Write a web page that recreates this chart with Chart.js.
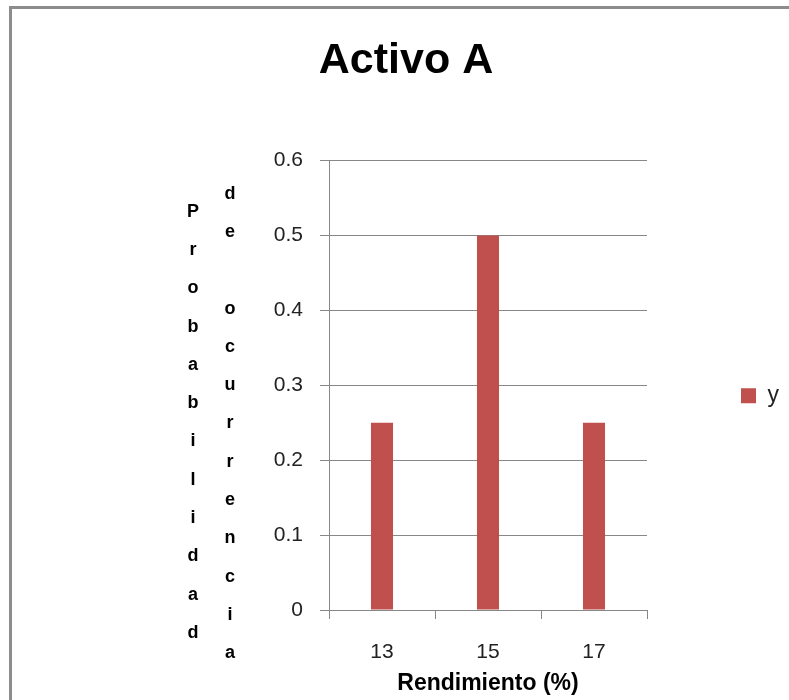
<!DOCTYPE html>
<html>
<head>
<meta charset="utf-8">
<script src="https://cdn.jsdelivr.net/npm/chart.js@4/dist/chart.umd.min.js"></script>
<style>
  html, body { margin: 0; padding: 0; background: #fff; overflow: hidden; width: 789px; height: 700px; }
  #frame { position: absolute; left: 9px; top: 6px; width: 820px; height: 720px;
           border-top: 3px solid #8c8c8c; border-left: 3px solid #8c8c8c; }
  #c { position: absolute; left: 12px; top: 9px; }
</style>
</head>
<body>
<div id="frame"></div>
<canvas id="c" width="788" height="700"></canvas>
<script>
// Rendimiento (%) categories and their probabilities
const categories = ['13', '15', '17'];
const probabilities = [0.25, 0.5, 0.25];
const seriesName = 'y';
const yMin = 0, yMax = 0.6, yStep = 0.1;

const chartTitle = 'Activo A';
const xTitle = 'Rendimiento (%)';
const yTitleLine1 = 'Probabilidad';
const yTitleLine2 = 'de ocurrencia';

const GRID = '#878787';
const BAR = '#C0504D';
const TEXT = '#222222';
const FONT = '"Liberation Sans", Arial, sans-serif';

// Y-axis title written as two stacked columns of upright letters
const stackedYTitle = {
  id: 'stackedYTitle',
  afterDraw(chart) {
    const { ctx, chartArea } = chart;
    ctx.save();
    ctx.font = 'bold 18px ' + FONT;
    ctx.fillStyle = '#000';
    ctx.textAlign = 'center';
    ctx.textBaseline = 'alphabetic';
    const step = 38.3;
    [...yTitleLine1].forEach((ch, i) => {
      ctx.fillText(ch, chartArea.left - 136, chartArea.top + 56 + i * step);
    });
    [...yTitleLine2].forEach((ch, i) => {
      ctx.fillText(ch, chartArea.left - 99, chartArea.top + 38 + i * step);
    });
    ctx.restore();
  }
};

new Chart(document.getElementById('c'), {
  type: 'bar',
  data: {
    labels: categories,
    datasets: [{
      label: seriesName,
      data: probabilities,
      backgroundColor: BAR,
      borderWidth: 0,
      categoryPercentage: 1,
      barPercentage: 0.208
    }]
  },
  options: {
    responsive: false,
    devicePixelRatio: 1,
    animation: false,
    layout: { padding: { left: 11, right: 11, top: 0, bottom: 12 } },
    plugins: {
      title: {
        display: true,
        text: chartTitle,
        color: '#000',
        font: { family: FONT, size: 43, weight: 'bold', lineHeight: 1.2 },
        padding: { top: 26, bottom: 74 }
      },
      legend: {
        position: 'right',
        fullSize: false,
        title: { display: true, text: '', font: { size: 15, lineHeight: 1.4 }, padding: 0 },
        labels: {
          boxWidth: 15,
          boxHeight: 15,
          padding: 94,
          color: TEXT,
          font: { family: FONT, size: 23 }
        }
      },
      tooltip: { enabled: false }
    },
    scales: {
      x: {
        offset: true,
        afterFit(scale) { scale.height = 87; },
        grid: { display: true, drawOnChartArea: false, drawTicks: true, tickLength: 9, color: GRID, offset: true },
        border: { display: true, color: GRID, width: 1 },
        ticks: { color: TEXT, padding: 21, font: { family: FONT, size: 21 } },
        title: {
          display: true,
          text: xTitle,
          color: '#000',
          font: { family: FONT, size: 23, weight: 'bold', lineHeight: 1.2 },
          padding: { top: 4, bottom: 0 }
        }
      },
      y: {
        min: yMin,
        max: yMax,
        afterFit(scale) { scale.width = 306; },
        grid: { color: GRID, tickLength: 9, drawTicks: true },
        border: { display: true, color: GRID, width: 1 },
        ticks: { stepSize: yStep, color: TEXT, padding: 17, font: { family: FONT, size: 21 } }
      }
    }
  },
  plugins: [stackedYTitle]
});
</script>
</body>
</html>
